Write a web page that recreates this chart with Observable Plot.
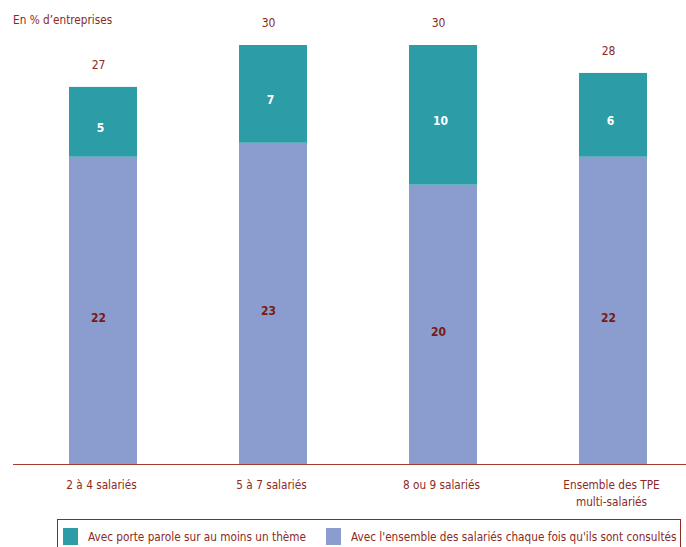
<!DOCTYPE html>
<html>
<head>
<meta charset="utf-8">
<script src="https://cdn.jsdelivr.net/npm/d3@7"></script>
<script src="https://cdn.jsdelivr.net/npm/@observablehq/plot@0.6"></script>
<style>
  body { margin: 0; background: #fff; }
  #wrap { position: relative; width: 686px; height: 547px; overflow: hidden;
          font-family: "DejaVu Sans Condensed", sans-serif; }
  #title { position: absolute; left: 13px; top: 13px; font-size: 11.7px; color: #8b2a1e; }
  #legend { position: absolute; left: 57px; top: 519px; width: 624px; height: 34px;
            border: 1px solid #8b2a1e; box-sizing: border-box; font-size: 11.7px; color: #8b2a1e; }
  .item { position: absolute; top: 8px; display: flex; align-items: center; white-space: nowrap; }
  .sw { width: 15px; height: 17px; margin-right: 10px; }
</style>
</head>
<body>
<div id="wrap">
  <div id="chart"></div>
  <div id="title">En % d’entreprises</div>
  <div id="legend"></div>
</div>
<script>
const categories = ["2 à 4 salariés", "5 à 7 salariés", "8 ou 9 salariés", "Ensemble des TPE\nmulti-salariés"];
const seriesNames = ["Avec l'ensemble des salariés chaque fois qu'ils sont consultés", "Avec porte parole sur au moins un thème"];
const ensembleValues = [22, 23, 20, 22];
const porteParoleValues = [5, 7, 10, 6];
const seriesColors = ["#8b9dcf", "#2c9ca6"];
const legendOrder = [1, 0];

const data = [];
categories.forEach((c, i) => {
  data.push({cat: c, series: seriesNames[0], value: ensembleValues[i]});
  data.push({cat: c, series: seriesNames[1], value: porteParoleValues[i]});
});

const red = "#8b2a1e";

const chart = Plot.plot({
  width: 686,
  height: 515,
  marginLeft: 13,
  marginRight: 0,
  marginTop: 45,
  marginBottom: 51,
  style: {fontFamily: "'DejaVu Sans Condensed', sans-serif", background: "transparent"},
  x: {domain: categories, range: [68, 648], paddingInner: 0.602, paddingOuter: 0, axis: null},
  y: {domain: [0, 30], axis: null},
  color: {domain: seriesNames, range: seriesColors},
  marks: [
    Plot.barY(data, {x: "cat", y: "value", fill: "series", z: "series"}),
    Plot.text(data, Plot.stackY({x: "cat", y: "value", z: "series",
      text: d => d.series === seriesNames[1] ? String(d.value) : null,
      fill: "white", fontWeight: "bold", fontSize: 12, dy: 6, dx: -3})),
    Plot.text(data, Plot.stackY({x: "cat", y: "value", z: "series",
      text: d => d.series === seriesNames[0] ? String(d.value) : null,
      fill: "#7a1a10", fontWeight: "bold", fontSize: 12, dy: 7, dx: -5})),
    Plot.text(data, Plot.groupX({y: "sum", text: "sum"}, {x: "cat", y: "value", text: "value",
      fill: red, fontSize: 12, dy: -22, dx: -5})),
    Plot.ruleY([0], {stroke: "#a53a2e", strokeWidth: 1.2}),
    Plot.text(categories, {x: d => d, y: 0, text: d => d, fill: red, fontSize: 11.7,
      lineAnchor: "top", dy: 12, dx: -2, lineHeight: 1.45})
  ]
});
document.getElementById("chart").appendChild(chart);

const legend = document.getElementById("legend");
const lefts = [5, 268];
legendOrder.forEach((si, k) => {
  const it = document.createElement("div");
  it.className = "item";
  it.style.left = lefts[k] + "px";
  const sw = document.createElement("div");
  sw.className = "sw";
  sw.style.background = seriesColors[si];
  const tx = document.createElement("span");
  tx.textContent = seriesNames[si];
  it.appendChild(sw);
  it.appendChild(tx);
  legend.appendChild(it);
});
</script>
</body>
</html>
